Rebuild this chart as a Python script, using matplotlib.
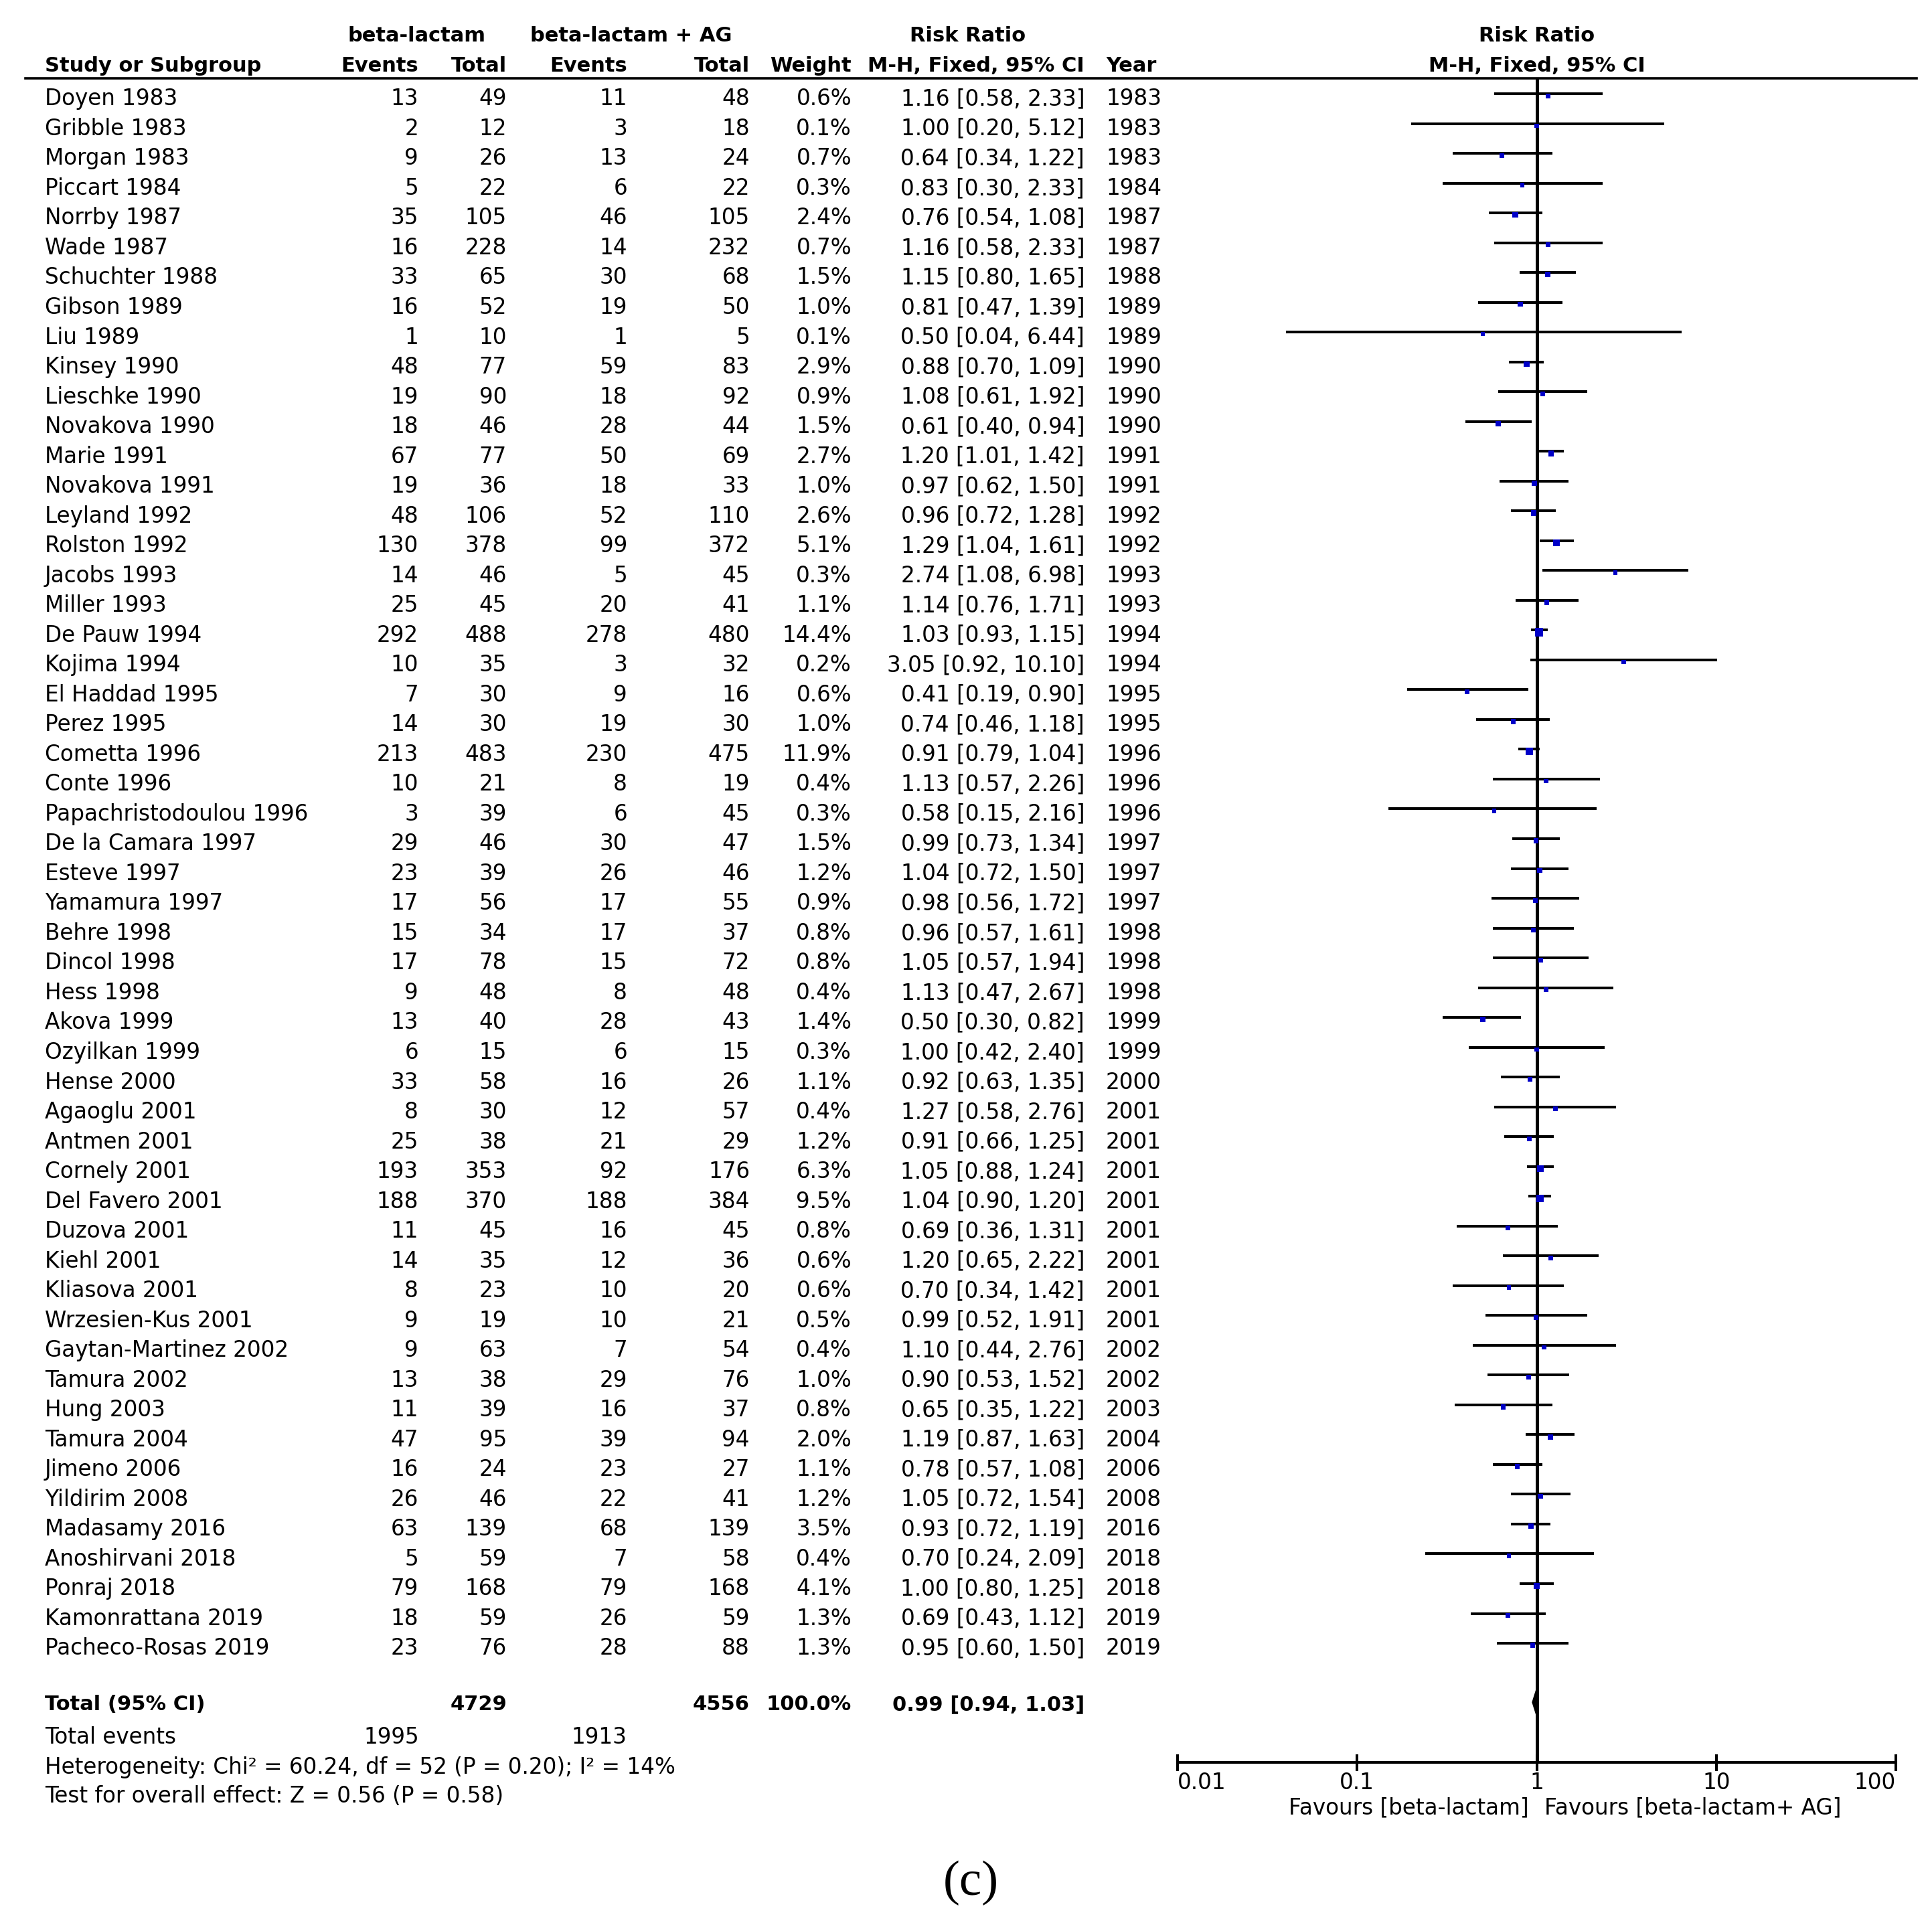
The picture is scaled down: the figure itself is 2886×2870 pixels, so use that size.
import matplotlib
matplotlib.use('Agg')
import matplotlib.pyplot as plt
from matplotlib.transforms import blended_transform_factory
from matplotlib.lines import Line2D
import numpy as np

# ---------------- data ----------------
studies = ["Doyen 1983", "Gribble 1983", "Morgan 1983", "Piccart 1984", "Norrby 1987",
           "Wade 1987", "Schuchter 1988", "Gibson 1989", "Liu 1989", "Kinsey 1990",
           "Lieschke 1990", "Novakova 1990", "Marie 1991", "Novakova 1991", "Leyland 1992",
           "Rolston 1992", "Jacobs 1993", "Miller 1993", "De Pauw 1994", "Kojima 1994",
           "El Haddad 1995", "Perez 1995", "Cometta 1996", "Conte 1996",
           "Papachristodoulou 1996", "De la Camara 1997", "Esteve 1997", "Yamamura 1997",
           "Behre 1998", "Dincol 1998", "Hess 1998", "Akova 1999", "Ozyilkan 1999",
           "Hense 2000", "Agaoglu 2001", "Antmen 2001", "Cornely 2001", "Del Favero 2001",
           "Duzova 2001", "Kiehl 2001", "Kliasova 2001", "Wrzesien-Kus 2001",
           "Gaytan-Martinez 2002", "Tamura 2002", "Hung 2003", "Tamura 2004",
           "Jimeno 2006", "Yildirim 2008", "Madasamy 2016", "Anoshirvani 2018",
           "Ponraj 2018", "Kamonrattana 2019", "Pacheco-Rosas 2019"]
years = [1983, 1983, 1983, 1984, 1987, 1987, 1988, 1989, 1989, 1990, 1990, 1990, 1991,
         1991, 1992, 1992, 1993, 1993, 1994, 1994, 1995, 1995, 1996, 1996, 1996, 1997,
         1997, 1997, 1998, 1998, 1998, 1999, 1999, 2000, 2001, 2001, 2001, 2001, 2001,
         2001, 2001, 2001, 2002, 2002, 2003, 2004, 2006, 2008, 2016, 2018, 2018, 2019, 2019]
events_bl = [13, 2, 9, 5, 35, 16, 33, 16, 1, 48, 19, 18, 67, 19, 48, 130, 14, 25, 292, 10,
             7, 14, 213, 10, 3, 29, 23, 17, 15, 17, 9, 13, 6, 33, 8, 25, 193, 188, 11, 14,
             8, 9, 9, 13, 11, 47, 16, 26, 63, 5, 79, 18, 23]
total_bl = [49, 12, 26, 22, 105, 228, 65, 52, 10, 77, 90, 46, 77, 36, 106, 378, 46, 45, 488,
            35, 30, 30, 483, 21, 39, 46, 39, 56, 34, 78, 48, 40, 15, 58, 30, 38, 353, 370,
            45, 35, 23, 19, 63, 38, 39, 95, 24, 46, 139, 59, 168, 59, 76]
events_ag = [11, 3, 13, 6, 46, 14, 30, 19, 1, 59, 18, 28, 50, 18, 52, 99, 5, 20, 278, 3,
             9, 19, 230, 8, 6, 30, 26, 17, 17, 15, 8, 28, 6, 16, 12, 21, 92, 188, 16, 12,
             10, 10, 7, 29, 16, 39, 23, 22, 68, 7, 79, 26, 28]
total_ag = [48, 18, 24, 22, 105, 232, 68, 50, 5, 83, 92, 44, 69, 33, 110, 372, 45, 41, 480,
            32, 16, 30, 475, 19, 45, 47, 46, 55, 37, 72, 48, 43, 15, 26, 57, 29, 176, 384,
            45, 36, 20, 21, 54, 76, 37, 94, 27, 41, 139, 58, 168, 59, 88]
weights = [0.6, 0.1, 0.7, 0.3, 2.4, 0.7, 1.5, 1.0, 0.1, 2.9, 0.9, 1.5, 2.7, 1.0, 2.6, 5.1,
           0.3, 1.1, 14.4, 0.2, 0.6, 1.0, 11.9, 0.4, 0.3, 1.5, 1.2, 0.9, 0.8, 0.8, 0.4, 1.4,
           0.3, 1.1, 0.4, 1.2, 6.3, 9.5, 0.8, 0.6, 0.6, 0.5, 0.4, 1.0, 0.8, 2.0, 1.1, 1.2,
           3.5, 0.4, 4.1, 1.3, 1.3]
rr = [1.16, 1.00, 0.64, 0.83, 0.76, 1.16, 1.15, 0.81, 0.50, 0.88, 1.08, 0.61, 1.20, 0.97,
      0.96, 1.29, 2.74, 1.14, 1.03, 3.05, 0.41, 0.74, 0.91, 1.13, 0.58, 0.99, 1.04, 0.98,
      0.96, 1.05, 1.13, 0.50, 1.00, 0.92, 1.27, 0.91, 1.05, 1.04, 0.69, 1.20, 0.70, 0.99,
      1.10, 0.90, 0.65, 1.19, 0.78, 1.05, 0.93, 0.70, 1.00, 0.69, 0.95]
ci_lo = [0.58, 0.20, 0.34, 0.30, 0.54, 0.58, 0.80, 0.47, 0.04, 0.70, 0.61, 0.40, 1.01, 0.62,
         0.72, 1.04, 1.08, 0.76, 0.93, 0.92, 0.19, 0.46, 0.79, 0.57, 0.15, 0.73, 0.72, 0.56,
         0.57, 0.57, 0.47, 0.30, 0.42, 0.63, 0.58, 0.66, 0.88, 0.90, 0.36, 0.65, 0.34, 0.52,
         0.44, 0.53, 0.35, 0.87, 0.57, 0.72, 0.72, 0.24, 0.80, 0.43, 0.60]
ci_hi = [2.33, 5.12, 1.22, 2.33, 1.08, 2.33, 1.65, 1.39, 6.44, 1.09, 1.92, 0.94, 1.42, 1.50,
         1.28, 1.61, 6.98, 1.71, 1.15, 10.10, 0.90, 1.18, 1.04, 2.26, 2.16, 1.34, 1.50, 1.72,
         1.61, 1.94, 2.67, 0.82, 2.40, 1.35, 2.76, 1.25, 1.24, 1.20, 1.31, 2.22, 1.42, 1.91,
         2.76, 1.52, 1.22, 1.63, 1.08, 1.54, 1.19, 2.09, 1.25, 1.12, 1.50]

total_bl_sum = 4729
total_ag_sum = 4556
events_bl_sum = 1995
events_ag_sum = 1913
total_weight = "100.0%"
pooled_rr, pooled_lo, pooled_hi = 0.99, 0.94, 1.03
xticks = [0.01, 0.1, 1, 10, 100]
xtick_labels = ["0.01", "0.1", "1", "10", "100"]
heterogeneity = "Heterogeneity: Chi\u00b2 = 60.24, df = 52 (P = 0.20); I\u00b2 = 14%"
overall = "Test for overall effect: Z = 0.56 (P = 0.58)"
fav_left = "Favours [beta-lactam]"
fav_right = "Favours [beta-lactam+ AG]"

# ---------------- layout ----------------
W, H = 2886, 2870
plt.rcParams['font.family'] = ['DejaVu Sans']
fig = plt.figure(figsize=(W / 100, H / 100), dpi=100)

row0, step = 140.0, 44.52          # pixel position of first row, row spacing
ax_left, ax_right = 1759, 2832
ax_top, ax_bot = 117, 2633

ax = fig.add_axes([ax_left / W, 1 - ax_bot / H, (ax_right - ax_left) / W, (ax_bot - ax_top) / H])
ax.set_xscale('log')
ax.set_xlim(0.01, 100)
ax.set_ylim((ax_bot - row0) / step, (ax_top - row0) / step)
ax.patch.set_alpha(0)
for sp in ['left', 'top', 'right']:
    ax.spines[sp].set_visible(False)
ax.spines['bottom'].set_linewidth(2.9)
ax.set_yticks([])
ax.set_xticks(xticks)
ax.set_xticklabels(xtick_labels)
ax.minorticks_off()
ax.tick_params(axis='x', which='major', direction='inout', length=18, width=2.9,
               labelsize=23.5, pad=1)
lbls = ax.get_xticklabels()
lbls[0].set_ha('left')
lbls[-1].set_ha('right')

ax.axvline(1, color='black', lw=3.5, zorder=1)

tr = blended_transform_factory(fig.transFigure, ax.transData)
FS = 23.5
BFS = 22
off = 0.39   # baseline offset from row line


def txt(xpx, y, s, ha='right', bold=False):
    fig.text(xpx / W, y, s, transform=tr, ha=ha, va='baseline',
             fontsize=BFS if bold else FS, fontweight='bold' if bold else 'normal')


# header
h1, h2 = -1.75, -0.74
txt(622, h1, "beta-lactam", ha='center', bold=True)
txt(943, h1, "beta-lactam + AG", ha='center', bold=True)
txt(1446, h1, "Risk Ratio", ha='center', bold=True)
ax.text(1, h1, "Risk Ratio", ha='center', va='baseline', fontsize=BFS, fontweight='bold', clip_on=False)
txt(67, h2, "Study or Subgroup", ha='left', bold=True)
txt(625, h2, "Events", bold=True)
txt(757, h2, "Total", bold=True)
txt(937, h2, "Events", bold=True)
txt(1120, h2, "Total", bold=True)
txt(1272, h2, "Weight", bold=True)
txt(1620, h2, "M-H, Fixed, 95% CI", bold=True)
txt(1652, h2, "Year", ha='left', bold=True)
ax.text(1, h2, "M-H, Fixed, 95% CI", ha='center', va='baseline', fontsize=BFS, fontweight='bold', clip_on=False)

# header rule
fig.add_artist(Line2D([38 / W, 2863 / W], [1 - ax_top / H, 1 - ax_top / H], color='black', lw=2.6))

# study rows
for i, name in enumerate(studies):
    y = i + off
    txt(67, y, name, ha='left')
    txt(625, y, str(events_bl[i]))
    txt(757, y, str(total_bl[i]))
    txt(937, y, str(events_ag[i]))
    txt(1120, y, str(total_ag[i]))
    txt(1272, y, f"{weights[i]:.1f}%")
    txt(1620, y, f"{rr[i]:.2f} [{ci_lo[i]:.2f}, {ci_hi[i]:.2f}]")
    txt(1652, y, str(years[i]), ha='left')

ypos = np.arange(len(studies))
ax.hlines(ypos, ci_lo, ci_hi, color='black', lw=2.9, zorder=2)
side_px = 5.5 + 1.75 * np.sqrt(np.array(weights))
ax.scatter(rr, ypos + 0.07, s=(side_px * 0.72) ** 2, marker='s', color='#0000C8',
           linewidths=0, zorder=3)

# total row
ty = 53.98
tty = 54.25
txt(67, tty, "Total (95% CI)", ha='left', bold=True)
txt(757, tty, str(total_bl_sum), bold=True)
txt(1120, tty, str(total_ag_sum), bold=True)
txt(1272, tty, total_weight, bold=True)
txt(1620, tty, f"{pooled_rr:.2f} [{pooled_lo:.2f}, {pooled_hi:.2f}]", bold=True)
dh = 0.43
ax.fill([pooled_lo, pooled_rr, pooled_hi, pooled_rr], [ty, ty - dh, ty, ty + dh],
        color='black', zorder=3, lw=0)

txt(67, 55.37, "Total events", ha='left')
txt(626, 55.37, str(events_bl_sum))
txt(936, 55.37, str(events_ag_sum))
txt(67, 56.38, heterogeneity, ha='left')
txt(67, 57.35, overall, ha='left')

# favours labels
ax.text(0.9, 57.73, fav_left, ha='right', va='baseline', fontsize=FS, clip_on=False)
ax.text(1.1, 57.73, fav_right, ha='left', va='baseline', fontsize=FS, clip_on=False)

# panel label
fig.text(1450 / W, 1 - 2813 / H, "(c)", ha='center', va='center', fontsize=54,
         family='Liberation Serif')

fig.savefig('out.png', dpi=100)
